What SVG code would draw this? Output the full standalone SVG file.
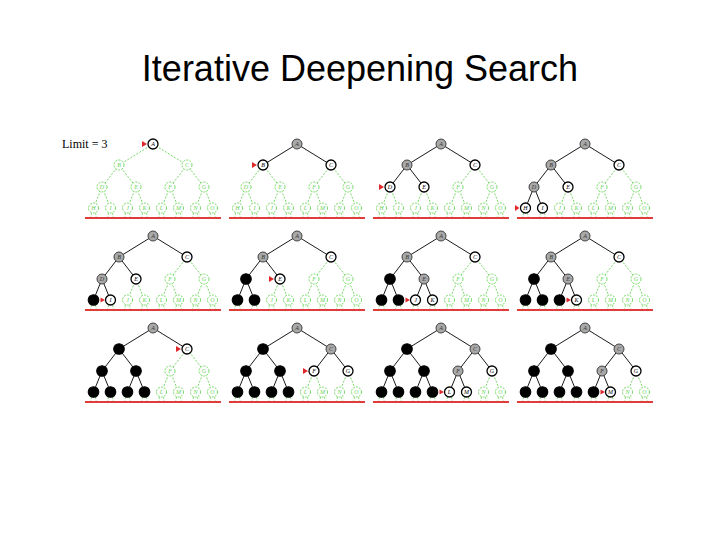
<svg xmlns="http://www.w3.org/2000/svg" width="720" height="540" viewBox="0 0 720 540">
<style>
.title{font-family:"Liberation Sans",Arial,sans-serif;font-size:36px;fill:#000}
.lim{font-family:"Liberation Serif",serif;font-size:12px;fill:#000}
circle{stroke-width:1.1}
text.n{font-family:"Liberation Serif",serif;font-style:italic;font-size:6px;text-anchor:middle}
.g circle{fill:#fff;stroke:#66d455;stroke-width:0.9;stroke-dasharray:2 1.2}
.g text{fill:#66d455}
.w circle{fill:#fff;stroke:#000;stroke-width:1.3}
.w text{fill:#000}
.x circle{fill:#a9a9a9;stroke:#333;stroke-width:0.9}
.x text{fill:#333}
.k circle{fill:#000;stroke:#000}
.e{stroke:#000;stroke-width:0.9}
.eg{stroke:#66d455;stroke-width:0.9;stroke-dasharray:2 1.5}
.tick{stroke:#66d455;stroke-width:0.8;stroke-dasharray:2 1.5;fill:none}
.limit{stroke:#e03c3c;stroke-width:2}
.tri{fill:#e0282a}
</style>
<defs>
<path id="ticks" class="tick" d="M-61.5,69 L-63,76 M-57.5,69 L-56,76 M-44.5,69 L-46,76 M-40.5,69 L-39,76 M-27.5,69 L-29,76 M-23.5,69 L-22,76 M-10.5,69 L-12,76 M-6.5,69 L-5,76 M6.5,69 L5,76 M10.5,69 L12,76 M23.5,69 L22,76 M27.5,69 L29,76 M40.5,69 L39,76 M44.5,69 L46,76 M57.5,69 L56,76 M61.5,69 L63,76"/>
<line id="redline" class="limit" x1="-68" y1="74" x2="68" y2="74"/>
</defs>
<text class="title" x="360" y="81" text-anchor="middle">Iterative Deepening Search</text>
<text class="lim" x="62" y="148">Limit = 3</text>

<!-- Panel 1 -->
<g id="panel1" transform="translate(153,144)">
<g id="p1-connectors">
<use href="#ticks"/>
<line class="eg" x1="0" y1="0" x2="-34" y2="21"/><line class="eg" x1="0" y1="0" x2="34" y2="21"/>
<line class="eg" x1="-34" y1="21" x2="-51" y2="43"/><line class="eg" x1="-34" y1="21" x2="-17" y2="43"/>
<line class="eg" x1="34" y1="21" x2="17" y2="43"/><line class="eg" x1="34" y1="21" x2="51" y2="43"/>
<line class="eg" x1="-51" y1="43" x2="-59.5" y2="64"/><line class="eg" x1="-51" y1="43" x2="-42.5" y2="64"/>
<line class="eg" x1="-17" y1="43" x2="-25.5" y2="64"/><line class="eg" x1="-17" y1="43" x2="-8.5" y2="64"/>
<line class="eg" x1="17" y1="43" x2="8.5" y2="64"/><line class="eg" x1="17" y1="43" x2="25.5" y2="64"/>
<line class="eg" x1="51" y1="43" x2="42.5" y2="64"/><line class="eg" x1="51" y1="43" x2="59.5" y2="64"/>
<use href="#redline"/>
</g>
<g id="p1-A" class="w"><circle cx="0" cy="0" r="5"/><text class="n" x="0" y="2">A</text></g>
<g id="p1-B" class="g"><circle cx="-34" cy="21" r="5"/><text class="n" x="-34" y="23">B</text></g>
<g id="p1-C" class="g"><circle cx="34" cy="21" r="5"/><text class="n" x="34" y="23">C</text></g>
<g id="p1-D" class="g"><circle cx="-51" cy="43" r="5"/><text class="n" x="-51" y="45">D</text></g>
<g id="p1-E" class="g"><circle cx="-17" cy="43" r="5"/><text class="n" x="-17" y="45">E</text></g>
<g id="p1-F" class="g"><circle cx="17" cy="43" r="5"/><text class="n" x="17" y="45">F</text></g>
<g id="p1-G" class="g"><circle cx="51" cy="43" r="5"/><text class="n" x="51" y="45">G</text></g>
<g id="p1-H" class="g"><circle cx="-59.5" cy="64" r="5"/><text class="n" x="-59.5" y="66">H</text></g>
<g id="p1-I" class="g"><circle cx="-42.5" cy="64" r="5"/><text class="n" x="-42.5" y="66">I</text></g>
<g id="p1-J" class="g"><circle cx="-25.5" cy="64" r="5"/><text class="n" x="-25.5" y="66">J</text></g>
<g id="p1-K" class="g"><circle cx="-8.5" cy="64" r="5"/><text class="n" x="-8.5" y="66">K</text></g>
<g id="p1-L" class="g"><circle cx="8.5" cy="64" r="5"/><text class="n" x="8.5" y="66">L</text></g>
<g id="p1-M" class="g"><circle cx="25.5" cy="64" r="5"/><text class="n" x="25.5" y="66">M</text></g>
<g id="p1-N" class="g"><circle cx="42.5" cy="64" r="5"/><text class="n" x="42.5" y="66">N</text></g>
<g id="p1-O" class="g"><circle cx="59.5" cy="64" r="5"/><text class="n" x="59.5" y="66">O</text></g>
<path id="p1-pointer" class="tri" d="M-11,-3 L-6,0 L-11,3Z"/>
</g>

<!-- Panel 2 -->
<g id="panel2" transform="translate(297,144)">
<g id="p2-connectors">
<use href="#ticks"/>
<line class="e" x1="0" y1="0" x2="-34" y2="21"/><line class="e" x1="0" y1="0" x2="34" y2="21"/>
<line class="eg" x1="-34" y1="21" x2="-51" y2="43"/><line class="eg" x1="-34" y1="21" x2="-17" y2="43"/>
<line class="eg" x1="34" y1="21" x2="17" y2="43"/><line class="eg" x1="34" y1="21" x2="51" y2="43"/>
<line class="eg" x1="-51" y1="43" x2="-59.5" y2="64"/><line class="eg" x1="-51" y1="43" x2="-42.5" y2="64"/>
<line class="eg" x1="-17" y1="43" x2="-25.5" y2="64"/><line class="eg" x1="-17" y1="43" x2="-8.5" y2="64"/>
<line class="eg" x1="17" y1="43" x2="8.5" y2="64"/><line class="eg" x1="17" y1="43" x2="25.5" y2="64"/>
<line class="eg" x1="51" y1="43" x2="42.5" y2="64"/><line class="eg" x1="51" y1="43" x2="59.5" y2="64"/>
<use href="#redline"/>
</g>
<g id="p2-A" class="x"><circle cx="0" cy="0" r="5"/><text class="n" x="0" y="2">A</text></g>
<g id="p2-B" class="w"><circle cx="-34" cy="21" r="5"/><text class="n" x="-34" y="23">B</text></g>
<g id="p2-C" class="w"><circle cx="34" cy="21" r="5"/><text class="n" x="34" y="23">C</text></g>
<g id="p2-D" class="g"><circle cx="-51" cy="43" r="5"/><text class="n" x="-51" y="45">D</text></g>
<g id="p2-E" class="g"><circle cx="-17" cy="43" r="5"/><text class="n" x="-17" y="45">E</text></g>
<g id="p2-F" class="g"><circle cx="17" cy="43" r="5"/><text class="n" x="17" y="45">F</text></g>
<g id="p2-G" class="g"><circle cx="51" cy="43" r="5"/><text class="n" x="51" y="45">G</text></g>
<g id="p2-H" class="g"><circle cx="-59.5" cy="64" r="5"/><text class="n" x="-59.5" y="66">H</text></g>
<g id="p2-I" class="g"><circle cx="-42.5" cy="64" r="5"/><text class="n" x="-42.5" y="66">I</text></g>
<g id="p2-J" class="g"><circle cx="-25.5" cy="64" r="5"/><text class="n" x="-25.5" y="66">J</text></g>
<g id="p2-K" class="g"><circle cx="-8.5" cy="64" r="5"/><text class="n" x="-8.5" y="66">K</text></g>
<g id="p2-L" class="g"><circle cx="8.5" cy="64" r="5"/><text class="n" x="8.5" y="66">L</text></g>
<g id="p2-M" class="g"><circle cx="25.5" cy="64" r="5"/><text class="n" x="25.5" y="66">M</text></g>
<g id="p2-N" class="g"><circle cx="42.5" cy="64" r="5"/><text class="n" x="42.5" y="66">N</text></g>
<g id="p2-O" class="g"><circle cx="59.5" cy="64" r="5"/><text class="n" x="59.5" y="66">O</text></g>
<path id="p2-pointer" class="tri" d="M-45,18 L-40,21 L-45,24Z"/>
</g>

<!-- Panel 3 -->
<g id="panel3" transform="translate(441,144)">
<g id="p3-connectors">
<use href="#ticks"/>
<line class="e" x1="0" y1="0" x2="-34" y2="21"/><line class="e" x1="0" y1="0" x2="34" y2="21"/>
<line class="e" x1="-34" y1="21" x2="-51" y2="43"/><line class="e" x1="-34" y1="21" x2="-17" y2="43"/>
<line class="eg" x1="34" y1="21" x2="17" y2="43"/><line class="eg" x1="34" y1="21" x2="51" y2="43"/>
<line class="eg" x1="-51" y1="43" x2="-59.5" y2="64"/><line class="eg" x1="-51" y1="43" x2="-42.5" y2="64"/>
<line class="eg" x1="-17" y1="43" x2="-25.5" y2="64"/><line class="eg" x1="-17" y1="43" x2="-8.5" y2="64"/>
<line class="eg" x1="17" y1="43" x2="8.5" y2="64"/><line class="eg" x1="17" y1="43" x2="25.5" y2="64"/>
<line class="eg" x1="51" y1="43" x2="42.5" y2="64"/><line class="eg" x1="51" y1="43" x2="59.5" y2="64"/>
<use href="#redline"/>
</g>
<g id="p3-A" class="x"><circle cx="0" cy="0" r="5"/><text class="n" x="0" y="2">A</text></g>
<g id="p3-B" class="x"><circle cx="-34" cy="21" r="5"/><text class="n" x="-34" y="23">B</text></g>
<g id="p3-C" class="w"><circle cx="34" cy="21" r="5"/><text class="n" x="34" y="23">C</text></g>
<g id="p3-D" class="w"><circle cx="-51" cy="43" r="5"/><text class="n" x="-51" y="45">D</text></g>
<g id="p3-E" class="w"><circle cx="-17" cy="43" r="5"/><text class="n" x="-17" y="45">E</text></g>
<g id="p3-F" class="g"><circle cx="17" cy="43" r="5"/><text class="n" x="17" y="45">F</text></g>
<g id="p3-G" class="g"><circle cx="51" cy="43" r="5"/><text class="n" x="51" y="45">G</text></g>
<g id="p3-H" class="g"><circle cx="-59.5" cy="64" r="5"/><text class="n" x="-59.5" y="66">H</text></g>
<g id="p3-I" class="g"><circle cx="-42.5" cy="64" r="5"/><text class="n" x="-42.5" y="66">I</text></g>
<g id="p3-J" class="g"><circle cx="-25.5" cy="64" r="5"/><text class="n" x="-25.5" y="66">J</text></g>
<g id="p3-K" class="g"><circle cx="-8.5" cy="64" r="5"/><text class="n" x="-8.5" y="66">K</text></g>
<g id="p3-L" class="g"><circle cx="8.5" cy="64" r="5"/><text class="n" x="8.5" y="66">L</text></g>
<g id="p3-M" class="g"><circle cx="25.5" cy="64" r="5"/><text class="n" x="25.5" y="66">M</text></g>
<g id="p3-N" class="g"><circle cx="42.5" cy="64" r="5"/><text class="n" x="42.5" y="66">N</text></g>
<g id="p3-O" class="g"><circle cx="59.5" cy="64" r="5"/><text class="n" x="59.5" y="66">O</text></g>
<path id="p3-pointer" class="tri" d="M-62,40 L-57,43 L-62,46Z"/>
</g>

<!-- Panel 4 -->
<g id="panel4" transform="translate(585,144)">
<g id="p4-connectors">
<use href="#ticks"/>
<line class="e" x1="0" y1="0" x2="-34" y2="21"/><line class="e" x1="0" y1="0" x2="34" y2="21"/>
<line class="e" x1="-34" y1="21" x2="-51" y2="43"/><line class="e" x1="-34" y1="21" x2="-17" y2="43"/>
<line class="eg" x1="34" y1="21" x2="17" y2="43"/><line class="eg" x1="34" y1="21" x2="51" y2="43"/>
<line class="e" x1="-51" y1="43" x2="-59.5" y2="64"/><line class="e" x1="-51" y1="43" x2="-42.5" y2="64"/>
<line class="eg" x1="-17" y1="43" x2="-25.5" y2="64"/><line class="eg" x1="-17" y1="43" x2="-8.5" y2="64"/>
<line class="eg" x1="17" y1="43" x2="8.5" y2="64"/><line class="eg" x1="17" y1="43" x2="25.5" y2="64"/>
<line class="eg" x1="51" y1="43" x2="42.5" y2="64"/><line class="eg" x1="51" y1="43" x2="59.5" y2="64"/>
<use href="#redline"/>
</g>
<g id="p4-A" class="x"><circle cx="0" cy="0" r="5"/><text class="n" x="0" y="2">A</text></g>
<g id="p4-B" class="x"><circle cx="-34" cy="21" r="5"/><text class="n" x="-34" y="23">B</text></g>
<g id="p4-C" class="w"><circle cx="34" cy="21" r="5"/><text class="n" x="34" y="23">C</text></g>
<g id="p4-D" class="x"><circle cx="-51" cy="43" r="5"/><text class="n" x="-51" y="45">D</text></g>
<g id="p4-E" class="w"><circle cx="-17" cy="43" r="5"/><text class="n" x="-17" y="45">E</text></g>
<g id="p4-F" class="g"><circle cx="17" cy="43" r="5"/><text class="n" x="17" y="45">F</text></g>
<g id="p4-G" class="g"><circle cx="51" cy="43" r="5"/><text class="n" x="51" y="45">G</text></g>
<g id="p4-H" class="w"><circle cx="-59.5" cy="64" r="5"/><text class="n" x="-59.5" y="66">H</text></g>
<g id="p4-I" class="w"><circle cx="-42.5" cy="64" r="5"/><text class="n" x="-42.5" y="66">I</text></g>
<g id="p4-J" class="g"><circle cx="-25.5" cy="64" r="5"/><text class="n" x="-25.5" y="66">J</text></g>
<g id="p4-K" class="g"><circle cx="-8.5" cy="64" r="5"/><text class="n" x="-8.5" y="66">K</text></g>
<g id="p4-L" class="g"><circle cx="8.5" cy="64" r="5"/><text class="n" x="8.5" y="66">L</text></g>
<g id="p4-M" class="g"><circle cx="25.5" cy="64" r="5"/><text class="n" x="25.5" y="66">M</text></g>
<g id="p4-N" class="g"><circle cx="42.5" cy="64" r="5"/><text class="n" x="42.5" y="66">N</text></g>
<g id="p4-O" class="g"><circle cx="59.5" cy="64" r="5"/><text class="n" x="59.5" y="66">O</text></g>
<path id="p4-pointer" class="tri" d="M-70,61 L-65.5,64 L-70,67Z"/>
</g>

<!-- Panel 5 -->
<g id="panel5" transform="translate(153,236)">
<g id="p5-connectors">
<use href="#ticks"/>
<line class="e" x1="0" y1="0" x2="-34" y2="21"/><line class="e" x1="0" y1="0" x2="34" y2="21"/>
<line class="e" x1="-34" y1="21" x2="-51" y2="43"/><line class="e" x1="-34" y1="21" x2="-17" y2="43"/>
<line class="eg" x1="34" y1="21" x2="17" y2="43"/><line class="eg" x1="34" y1="21" x2="51" y2="43"/>
<line class="e" x1="-51" y1="43" x2="-59.5" y2="64"/><line class="e" x1="-51" y1="43" x2="-42.5" y2="64"/>
<line class="eg" x1="-17" y1="43" x2="-25.5" y2="64"/><line class="eg" x1="-17" y1="43" x2="-8.5" y2="64"/>
<line class="eg" x1="17" y1="43" x2="8.5" y2="64"/><line class="eg" x1="17" y1="43" x2="25.5" y2="64"/>
<line class="eg" x1="51" y1="43" x2="42.5" y2="64"/><line class="eg" x1="51" y1="43" x2="59.5" y2="64"/>
<use href="#redline"/>
</g>
<g id="p5-A" class="x"><circle cx="0" cy="0" r="5"/><text class="n" x="0" y="2">A</text></g>
<g id="p5-B" class="x"><circle cx="-34" cy="21" r="5"/><text class="n" x="-34" y="23">B</text></g>
<g id="p5-C" class="w"><circle cx="34" cy="21" r="5"/><text class="n" x="34" y="23">C</text></g>
<g id="p5-D" class="x"><circle cx="-51" cy="43" r="5"/><text class="n" x="-51" y="45">D</text></g>
<g id="p5-E" class="w"><circle cx="-17" cy="43" r="5"/><text class="n" x="-17" y="45">E</text></g>
<g id="p5-F" class="g"><circle cx="17" cy="43" r="5"/><text class="n" x="17" y="45">F</text></g>
<g id="p5-G" class="g"><circle cx="51" cy="43" r="5"/><text class="n" x="51" y="45">G</text></g>
<g id="p5-H" class="k"><circle cx="-59.5" cy="64" r="5.3"/></g>
<g id="p5-I" class="w"><circle cx="-42.5" cy="64" r="5"/><text class="n" x="-42.5" y="66">I</text></g>
<g id="p5-J" class="g"><circle cx="-25.5" cy="64" r="5"/><text class="n" x="-25.5" y="66">J</text></g>
<g id="p5-K" class="g"><circle cx="-8.5" cy="64" r="5"/><text class="n" x="-8.5" y="66">K</text></g>
<g id="p5-L" class="g"><circle cx="8.5" cy="64" r="5"/><text class="n" x="8.5" y="66">L</text></g>
<g id="p5-M" class="g"><circle cx="25.5" cy="64" r="5"/><text class="n" x="25.5" y="66">M</text></g>
<g id="p5-N" class="g"><circle cx="42.5" cy="64" r="5"/><text class="n" x="42.5" y="66">N</text></g>
<g id="p5-O" class="g"><circle cx="59.5" cy="64" r="5"/><text class="n" x="59.5" y="66">O</text></g>
<path id="p5-pointer" class="tri" d="M-52.5,61.5 L-48,64 L-52.5,66.5Z"/>
</g>

<!-- Panel 6 -->
<g id="panel6" transform="translate(297,236)">
<g id="p6-connectors">
<use href="#ticks"/>
<line class="e" x1="0" y1="0" x2="-34" y2="21"/><line class="e" x1="0" y1="0" x2="34" y2="21"/>
<line class="e" x1="-34" y1="21" x2="-51" y2="43"/><line class="e" x1="-34" y1="21" x2="-17" y2="43"/>
<line class="eg" x1="34" y1="21" x2="17" y2="43"/><line class="eg" x1="34" y1="21" x2="51" y2="43"/>
<line class="e" x1="-51" y1="43" x2="-59.5" y2="64"/><line class="e" x1="-51" y1="43" x2="-42.5" y2="64"/>
<line class="eg" x1="-17" y1="43" x2="-25.5" y2="64"/><line class="eg" x1="-17" y1="43" x2="-8.5" y2="64"/>
<line class="eg" x1="17" y1="43" x2="8.5" y2="64"/><line class="eg" x1="17" y1="43" x2="25.5" y2="64"/>
<line class="eg" x1="51" y1="43" x2="42.5" y2="64"/><line class="eg" x1="51" y1="43" x2="59.5" y2="64"/>
<use href="#redline"/>
</g>
<g id="p6-A" class="x"><circle cx="0" cy="0" r="5"/><text class="n" x="0" y="2">A</text></g>
<g id="p6-B" class="x"><circle cx="-34" cy="21" r="5"/><text class="n" x="-34" y="23">B</text></g>
<g id="p6-C" class="w"><circle cx="34" cy="21" r="5"/><text class="n" x="34" y="23">C</text></g>
<g id="p6-D" class="k"><circle cx="-51" cy="43" r="5.3"/></g>
<g id="p6-E" class="w"><circle cx="-17" cy="43" r="5"/><text class="n" x="-17" y="45">E</text></g>
<g id="p6-F" class="g"><circle cx="17" cy="43" r="5"/><text class="n" x="17" y="45">F</text></g>
<g id="p6-G" class="g"><circle cx="51" cy="43" r="5"/><text class="n" x="51" y="45">G</text></g>
<g id="p6-H" class="k"><circle cx="-59.5" cy="64" r="5.3"/></g>
<g id="p6-I" class="k"><circle cx="-42.5" cy="64" r="5.3"/></g>
<g id="p6-J" class="g"><circle cx="-25.5" cy="64" r="5"/><text class="n" x="-25.5" y="66">J</text></g>
<g id="p6-K" class="g"><circle cx="-8.5" cy="64" r="5"/><text class="n" x="-8.5" y="66">K</text></g>
<g id="p6-L" class="g"><circle cx="8.5" cy="64" r="5"/><text class="n" x="8.5" y="66">L</text></g>
<g id="p6-M" class="g"><circle cx="25.5" cy="64" r="5"/><text class="n" x="25.5" y="66">M</text></g>
<g id="p6-N" class="g"><circle cx="42.5" cy="64" r="5"/><text class="n" x="42.5" y="66">N</text></g>
<g id="p6-O" class="g"><circle cx="59.5" cy="64" r="5"/><text class="n" x="59.5" y="66">O</text></g>
<path id="p6-pointer" class="tri" d="M-28,40 L-23,43 L-28,46Z"/>
</g>

<!-- Panel 7 -->
<g id="panel7" transform="translate(441,236)">
<g id="p7-connectors">
<use href="#ticks"/>
<line class="e" x1="0" y1="0" x2="-34" y2="21"/><line class="e" x1="0" y1="0" x2="34" y2="21"/>
<line class="e" x1="-34" y1="21" x2="-51" y2="43"/><line class="e" x1="-34" y1="21" x2="-17" y2="43"/>
<line class="eg" x1="34" y1="21" x2="17" y2="43"/><line class="eg" x1="34" y1="21" x2="51" y2="43"/>
<line class="e" x1="-51" y1="43" x2="-59.5" y2="64"/><line class="e" x1="-51" y1="43" x2="-42.5" y2="64"/>
<line class="e" x1="-17" y1="43" x2="-25.5" y2="64"/><line class="e" x1="-17" y1="43" x2="-8.5" y2="64"/>
<line class="eg" x1="17" y1="43" x2="8.5" y2="64"/><line class="eg" x1="17" y1="43" x2="25.5" y2="64"/>
<line class="eg" x1="51" y1="43" x2="42.5" y2="64"/><line class="eg" x1="51" y1="43" x2="59.5" y2="64"/>
<use href="#redline"/>
</g>
<g id="p7-A" class="x"><circle cx="0" cy="0" r="5"/><text class="n" x="0" y="2">A</text></g>
<g id="p7-B" class="x"><circle cx="-34" cy="21" r="5"/><text class="n" x="-34" y="23">B</text></g>
<g id="p7-C" class="w"><circle cx="34" cy="21" r="5"/><text class="n" x="34" y="23">C</text></g>
<g id="p7-D" class="k"><circle cx="-51" cy="43" r="5.3"/></g>
<g id="p7-E" class="x"><circle cx="-17" cy="43" r="5"/><text class="n" x="-17" y="45">E</text></g>
<g id="p7-F" class="g"><circle cx="17" cy="43" r="5"/><text class="n" x="17" y="45">F</text></g>
<g id="p7-G" class="g"><circle cx="51" cy="43" r="5"/><text class="n" x="51" y="45">G</text></g>
<g id="p7-H" class="k"><circle cx="-59.5" cy="64" r="5.3"/></g>
<g id="p7-I" class="k"><circle cx="-42.5" cy="64" r="5.3"/></g>
<g id="p7-J" class="w"><circle cx="-25.5" cy="64" r="5"/><text class="n" x="-25.5" y="66">J</text></g>
<g id="p7-K" class="w"><circle cx="-8.5" cy="64" r="5"/><text class="n" x="-8.5" y="66">K</text></g>
<g id="p7-L" class="g"><circle cx="8.5" cy="64" r="5"/><text class="n" x="8.5" y="66">L</text></g>
<g id="p7-M" class="g"><circle cx="25.5" cy="64" r="5"/><text class="n" x="25.5" y="66">M</text></g>
<g id="p7-N" class="g"><circle cx="42.5" cy="64" r="5"/><text class="n" x="42.5" y="66">N</text></g>
<g id="p7-O" class="g"><circle cx="59.5" cy="64" r="5"/><text class="n" x="59.5" y="66">O</text></g>
<path id="p7-pointer" class="tri" d="M-35.5,61.5 L-31,64 L-35.5,66.5Z"/>
</g>

<!-- Panel 8 -->
<g id="panel8" transform="translate(585,236)">
<g id="p8-connectors">
<use href="#ticks"/>
<line class="e" x1="0" y1="0" x2="-34" y2="21"/><line class="e" x1="0" y1="0" x2="34" y2="21"/>
<line class="e" x1="-34" y1="21" x2="-51" y2="43"/><line class="e" x1="-34" y1="21" x2="-17" y2="43"/>
<line class="eg" x1="34" y1="21" x2="17" y2="43"/><line class="eg" x1="34" y1="21" x2="51" y2="43"/>
<line class="e" x1="-51" y1="43" x2="-59.5" y2="64"/><line class="e" x1="-51" y1="43" x2="-42.5" y2="64"/>
<line class="e" x1="-17" y1="43" x2="-25.5" y2="64"/><line class="e" x1="-17" y1="43" x2="-8.5" y2="64"/>
<line class="eg" x1="17" y1="43" x2="8.5" y2="64"/><line class="eg" x1="17" y1="43" x2="25.5" y2="64"/>
<line class="eg" x1="51" y1="43" x2="42.5" y2="64"/><line class="eg" x1="51" y1="43" x2="59.5" y2="64"/>
<use href="#redline"/>
</g>
<g id="p8-A" class="x"><circle cx="0" cy="0" r="5"/><text class="n" x="0" y="2">A</text></g>
<g id="p8-B" class="x"><circle cx="-34" cy="21" r="5"/><text class="n" x="-34" y="23">B</text></g>
<g id="p8-C" class="w"><circle cx="34" cy="21" r="5"/><text class="n" x="34" y="23">C</text></g>
<g id="p8-D" class="k"><circle cx="-51" cy="43" r="5.3"/></g>
<g id="p8-E" class="x"><circle cx="-17" cy="43" r="5"/><text class="n" x="-17" y="45">E</text></g>
<g id="p8-F" class="g"><circle cx="17" cy="43" r="5"/><text class="n" x="17" y="45">F</text></g>
<g id="p8-G" class="g"><circle cx="51" cy="43" r="5"/><text class="n" x="51" y="45">G</text></g>
<g id="p8-H" class="k"><circle cx="-59.5" cy="64" r="5.3"/></g>
<g id="p8-I" class="k"><circle cx="-42.5" cy="64" r="5.3"/></g>
<g id="p8-J" class="k"><circle cx="-25.5" cy="64" r="5.3"/></g>
<g id="p8-K" class="w"><circle cx="-8.5" cy="64" r="5"/><text class="n" x="-8.5" y="66">K</text></g>
<g id="p8-L" class="g"><circle cx="8.5" cy="64" r="5"/><text class="n" x="8.5" y="66">L</text></g>
<g id="p8-M" class="g"><circle cx="25.5" cy="64" r="5"/><text class="n" x="25.5" y="66">M</text></g>
<g id="p8-N" class="g"><circle cx="42.5" cy="64" r="5"/><text class="n" x="42.5" y="66">N</text></g>
<g id="p8-O" class="g"><circle cx="59.5" cy="64" r="5"/><text class="n" x="59.5" y="66">O</text></g>
<path id="p8-pointer" class="tri" d="M-18.5,61.5 L-14,64 L-18.5,66.5Z"/>
</g>

<!-- Panel 9 -->
<g id="panel9" transform="translate(153,328)">
<g id="p9-connectors">
<use href="#ticks"/>
<line class="e" x1="0" y1="0" x2="-34" y2="21"/><line class="e" x1="0" y1="0" x2="34" y2="21"/>
<line class="e" x1="-34" y1="21" x2="-51" y2="43"/><line class="e" x1="-34" y1="21" x2="-17" y2="43"/>
<line class="eg" x1="34" y1="21" x2="17" y2="43"/><line class="eg" x1="34" y1="21" x2="51" y2="43"/>
<line class="e" x1="-51" y1="43" x2="-59.5" y2="64"/><line class="e" x1="-51" y1="43" x2="-42.5" y2="64"/>
<line class="e" x1="-17" y1="43" x2="-25.5" y2="64"/><line class="e" x1="-17" y1="43" x2="-8.5" y2="64"/>
<line class="eg" x1="17" y1="43" x2="8.5" y2="64"/><line class="eg" x1="17" y1="43" x2="25.5" y2="64"/>
<line class="eg" x1="51" y1="43" x2="42.5" y2="64"/><line class="eg" x1="51" y1="43" x2="59.5" y2="64"/>
<use href="#redline"/>
</g>
<g id="p9-A" class="x"><circle cx="0" cy="0" r="5"/><text class="n" x="0" y="2">A</text></g>
<g id="p9-B" class="k"><circle cx="-34" cy="21" r="5.3"/></g>
<g id="p9-C" class="w"><circle cx="34" cy="21" r="5"/><text class="n" x="34" y="23">C</text></g>
<g id="p9-D" class="k"><circle cx="-51" cy="43" r="5.3"/></g>
<g id="p9-E" class="k"><circle cx="-17" cy="43" r="5.3"/></g>
<g id="p9-F" class="g"><circle cx="17" cy="43" r="5"/><text class="n" x="17" y="45">F</text></g>
<g id="p9-G" class="g"><circle cx="51" cy="43" r="5"/><text class="n" x="51" y="45">G</text></g>
<g id="p9-H" class="k"><circle cx="-59.5" cy="64" r="5.3"/></g>
<g id="p9-I" class="k"><circle cx="-42.5" cy="64" r="5.3"/></g>
<g id="p9-J" class="k"><circle cx="-25.5" cy="64" r="5.3"/></g>
<g id="p9-K" class="k"><circle cx="-8.5" cy="64" r="5.3"/></g>
<g id="p9-L" class="g"><circle cx="8.5" cy="64" r="5"/><text class="n" x="8.5" y="66">L</text></g>
<g id="p9-M" class="g"><circle cx="25.5" cy="64" r="5"/><text class="n" x="25.5" y="66">M</text></g>
<g id="p9-N" class="g"><circle cx="42.5" cy="64" r="5"/><text class="n" x="42.5" y="66">N</text></g>
<g id="p9-O" class="g"><circle cx="59.5" cy="64" r="5"/><text class="n" x="59.5" y="66">O</text></g>
<path id="p9-pointer" class="tri" d="M23,18 L28,21 L23,24Z"/>
</g>

<!-- Panel 10 -->
<g id="panel10" transform="translate(297,328)">
<g id="p10-connectors">
<use href="#ticks"/>
<line class="e" x1="0" y1="0" x2="-34" y2="21"/><line class="e" x1="0" y1="0" x2="34" y2="21"/>
<line class="e" x1="-34" y1="21" x2="-51" y2="43"/><line class="e" x1="-34" y1="21" x2="-17" y2="43"/>
<line class="e" x1="34" y1="21" x2="17" y2="43"/><line class="e" x1="34" y1="21" x2="51" y2="43"/>
<line class="e" x1="-51" y1="43" x2="-59.5" y2="64"/><line class="e" x1="-51" y1="43" x2="-42.5" y2="64"/>
<line class="e" x1="-17" y1="43" x2="-25.5" y2="64"/><line class="e" x1="-17" y1="43" x2="-8.5" y2="64"/>
<line class="eg" x1="17" y1="43" x2="8.5" y2="64"/><line class="eg" x1="17" y1="43" x2="25.5" y2="64"/>
<line class="eg" x1="51" y1="43" x2="42.5" y2="64"/><line class="eg" x1="51" y1="43" x2="59.5" y2="64"/>
<use href="#redline"/>
</g>
<g id="p10-A" class="x"><circle cx="0" cy="0" r="5"/><text class="n" x="0" y="2">A</text></g>
<g id="p10-B" class="k"><circle cx="-34" cy="21" r="5.3"/></g>
<g id="p10-C" class="x"><circle cx="34" cy="21" r="5"/><text class="n" x="34" y="23">C</text></g>
<g id="p10-D" class="k"><circle cx="-51" cy="43" r="5.3"/></g>
<g id="p10-E" class="k"><circle cx="-17" cy="43" r="5.3"/></g>
<g id="p10-F" class="w"><circle cx="17" cy="43" r="5"/><text class="n" x="17" y="45">F</text></g>
<g id="p10-G" class="w"><circle cx="51" cy="43" r="5"/><text class="n" x="51" y="45">G</text></g>
<g id="p10-H" class="k"><circle cx="-59.5" cy="64" r="5.3"/></g>
<g id="p10-I" class="k"><circle cx="-42.5" cy="64" r="5.3"/></g>
<g id="p10-J" class="k"><circle cx="-25.5" cy="64" r="5.3"/></g>
<g id="p10-K" class="k"><circle cx="-8.5" cy="64" r="5.3"/></g>
<g id="p10-L" class="g"><circle cx="8.5" cy="64" r="5"/><text class="n" x="8.5" y="66">L</text></g>
<g id="p10-M" class="g"><circle cx="25.5" cy="64" r="5"/><text class="n" x="25.5" y="66">M</text></g>
<g id="p10-N" class="g"><circle cx="42.5" cy="64" r="5"/><text class="n" x="42.5" y="66">N</text></g>
<g id="p10-O" class="g"><circle cx="59.5" cy="64" r="5"/><text class="n" x="59.5" y="66">O</text></g>
<path id="p10-pointer" class="tri" d="M6,40 L11,43 L6,46Z"/>
</g>

<!-- Panel 11 -->
<g id="panel11" transform="translate(441,328)">
<g id="p11-connectors">
<use href="#ticks"/>
<line class="e" x1="0" y1="0" x2="-34" y2="21"/><line class="e" x1="0" y1="0" x2="34" y2="21"/>
<line class="e" x1="-34" y1="21" x2="-51" y2="43"/><line class="e" x1="-34" y1="21" x2="-17" y2="43"/>
<line class="e" x1="34" y1="21" x2="17" y2="43"/><line class="e" x1="34" y1="21" x2="51" y2="43"/>
<line class="e" x1="-51" y1="43" x2="-59.5" y2="64"/><line class="e" x1="-51" y1="43" x2="-42.5" y2="64"/>
<line class="e" x1="-17" y1="43" x2="-25.5" y2="64"/><line class="e" x1="-17" y1="43" x2="-8.5" y2="64"/>
<line class="e" x1="17" y1="43" x2="8.5" y2="64"/><line class="e" x1="17" y1="43" x2="25.5" y2="64"/>
<line class="eg" x1="51" y1="43" x2="42.5" y2="64"/><line class="eg" x1="51" y1="43" x2="59.5" y2="64"/>
<use href="#redline"/>
</g>
<g id="p11-A" class="x"><circle cx="0" cy="0" r="5"/><text class="n" x="0" y="2">A</text></g>
<g id="p11-B" class="k"><circle cx="-34" cy="21" r="5.3"/></g>
<g id="p11-C" class="x"><circle cx="34" cy="21" r="5"/><text class="n" x="34" y="23">C</text></g>
<g id="p11-D" class="k"><circle cx="-51" cy="43" r="5.3"/></g>
<g id="p11-E" class="k"><circle cx="-17" cy="43" r="5.3"/></g>
<g id="p11-F" class="x"><circle cx="17" cy="43" r="5"/><text class="n" x="17" y="45">F</text></g>
<g id="p11-G" class="w"><circle cx="51" cy="43" r="5"/><text class="n" x="51" y="45">G</text></g>
<g id="p11-H" class="k"><circle cx="-59.5" cy="64" r="5.3"/></g>
<g id="p11-I" class="k"><circle cx="-42.5" cy="64" r="5.3"/></g>
<g id="p11-J" class="k"><circle cx="-25.5" cy="64" r="5.3"/></g>
<g id="p11-K" class="k"><circle cx="-8.5" cy="64" r="5.3"/></g>
<g id="p11-L" class="w"><circle cx="8.5" cy="64" r="5"/><text class="n" x="8.5" y="66">L</text></g>
<g id="p11-M" class="w"><circle cx="25.5" cy="64" r="5"/><text class="n" x="25.5" y="66">M</text></g>
<g id="p11-N" class="g"><circle cx="42.5" cy="64" r="5"/><text class="n" x="42.5" y="66">N</text></g>
<g id="p11-O" class="g"><circle cx="59.5" cy="64" r="5"/><text class="n" x="59.5" y="66">O</text></g>
<path id="p11-pointer" class="tri" d="M-1.5,61.5 L3,64 L-1.5,66.5Z"/>
</g>

<!-- Panel 12 -->
<g id="panel12" transform="translate(585,328)">
<g id="p12-connectors">
<use href="#ticks"/>
<line class="e" x1="0" y1="0" x2="-34" y2="21"/><line class="e" x1="0" y1="0" x2="34" y2="21"/>
<line class="e" x1="-34" y1="21" x2="-51" y2="43"/><line class="e" x1="-34" y1="21" x2="-17" y2="43"/>
<line class="e" x1="34" y1="21" x2="17" y2="43"/><line class="e" x1="34" y1="21" x2="51" y2="43"/>
<line class="e" x1="-51" y1="43" x2="-59.5" y2="64"/><line class="e" x1="-51" y1="43" x2="-42.5" y2="64"/>
<line class="e" x1="-17" y1="43" x2="-25.5" y2="64"/><line class="e" x1="-17" y1="43" x2="-8.5" y2="64"/>
<line class="e" x1="17" y1="43" x2="8.5" y2="64"/><line class="e" x1="17" y1="43" x2="25.5" y2="64"/>
<line class="eg" x1="51" y1="43" x2="42.5" y2="64"/><line class="eg" x1="51" y1="43" x2="59.5" y2="64"/>
<use href="#redline"/>
</g>
<g id="p12-A" class="x"><circle cx="0" cy="0" r="5"/><text class="n" x="0" y="2">A</text></g>
<g id="p12-B" class="k"><circle cx="-34" cy="21" r="5.3"/></g>
<g id="p12-C" class="x"><circle cx="34" cy="21" r="5"/><text class="n" x="34" y="23">C</text></g>
<g id="p12-D" class="k"><circle cx="-51" cy="43" r="5.3"/></g>
<g id="p12-E" class="k"><circle cx="-17" cy="43" r="5.3"/></g>
<g id="p12-F" class="x"><circle cx="17" cy="43" r="5"/><text class="n" x="17" y="45">F</text></g>
<g id="p12-G" class="w"><circle cx="51" cy="43" r="5"/><text class="n" x="51" y="45">G</text></g>
<g id="p12-H" class="k"><circle cx="-59.5" cy="64" r="5.3"/></g>
<g id="p12-I" class="k"><circle cx="-42.5" cy="64" r="5.3"/></g>
<g id="p12-J" class="k"><circle cx="-25.5" cy="64" r="5.3"/></g>
<g id="p12-K" class="k"><circle cx="-8.5" cy="64" r="5.3"/></g>
<g id="p12-L" class="k"><circle cx="8.5" cy="64" r="5.3"/></g>
<g id="p12-M" class="w"><circle cx="25.5" cy="64" r="5"/><text class="n" x="25.5" y="66">M</text></g>
<g id="p12-N" class="g"><circle cx="42.5" cy="64" r="5"/><text class="n" x="42.5" y="66">N</text></g>
<g id="p12-O" class="g"><circle cx="59.5" cy="64" r="5"/><text class="n" x="59.5" y="66">O</text></g>
<path id="p12-pointer" class="tri" d="M15.5,61.5 L20,64 L15.5,66.5Z"/>
</g>
</svg>
